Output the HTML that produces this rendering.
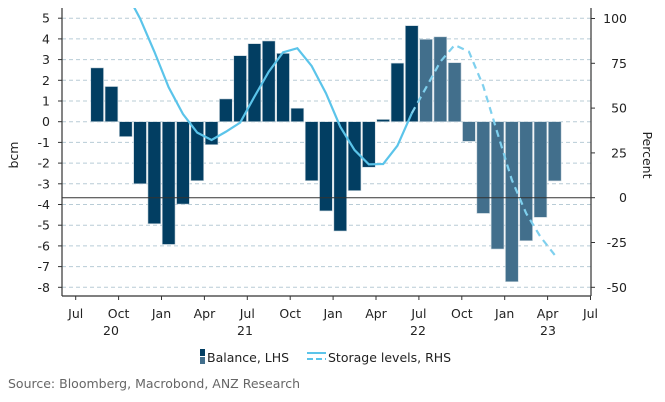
<!DOCTYPE html>
<html><head><meta charset="utf-8"><style>
html,body{margin:0;padding:0;background:#fff;}
svg{display:block;font-family:"DejaVu Sans","Liberation Sans",sans-serif;}
</style></head><body>
<svg id="chart" width="665" height="402" viewBox="0 0 665 402" xmlns="http://www.w3.org/2000/svg">
<defs><clipPath id="plotclip"><rect x="62" y="8" width="529" height="288"/></clipPath></defs>
<g id="grid"></g>
<g id="bars"></g>
<line x1="62" x2="591" y1="197.7" y2="197.7" stroke="#333" stroke-width="1"/>
<g id="lines" clip-path="url(#plotclip)"></g>
<g id="axes"></g>
<text x="18" y="155" font-size="12.5" fill="#222" text-anchor="middle" transform="rotate(-90 18 155)">bcm</text>
<text x="643" y="155" font-size="12.5" fill="#222" text-anchor="middle" transform="rotate(90 643 155)">Percent</text>
<g>
<rect x="200" y="349" width="5" height="7" fill="#023e62"/>
<rect x="200" y="357" width="5" height="7" fill="#426f8c"/>
<text x="207" y="362" font-size="12.5" fill="#222">Balance, LHS</text>
<line x1="307" x2="326" y1="353" y2="353" stroke="#5bc4ea" stroke-width="2"/>
<line x1="307" x2="326" y1="359" y2="359" stroke="#5bc4ea" stroke-width="2" stroke-dasharray="6,3"/>
<text x="328" y="362" font-size="12.5" fill="#222">Storage levels, RHS</text>
</g>
<text x="8" y="388" font-size="12.5" fill="#666">Source:  Bloomberg, Macrobond, ANZ Research</text>
</svg>
<script>
const months = ["Aug20","Sep20","Oct20","Nov20","Dec20","Jan21","Feb21","Mar21","Apr21","May21","Jun21","Jul21","Aug21","Sep21","Oct21","Nov21","Dec21","Jan22","Feb22","Mar22","Apr22","May22","Jun22","Jul22","Aug22","Sep22","Oct22","Nov22","Dec22","Jan23","Feb23","Mar23","Apr23"];
const balance = [2.6,1.7,-0.72,-3.0,-4.93,-5.93,-3.98,-2.85,-1.11,1.1,3.19,3.77,3.9,3.3,0.65,-2.85,-4.31,-5.28,-3.33,-2.2,0.11,2.83,4.64,3.98,4.1,2.85,-0.95,-4.43,-6.15,-7.73,-5.75,-4.62,-2.86];
const forecastStart = 23;
const storageMonths = ["Oct20","Nov20","Dec20","Jan21","Feb21","Mar21","Apr21","May21","Jun21","Jul21","Aug21","Sep21","Oct21","Nov21","Dec21","Jan22","Feb22","Mar22","Apr22","May22","Jun22","Jul22","Aug22","Sep22","Oct22","Nov22","Dec22","Jan23","Feb23","Mar23","Apr23"];
const storage = [115,100,81.5,61.6,46.7,36.3,32.2,36.8,41.9,56.4,70.3,81.1,83.4,73.5,58.3,39.6,26.6,18.6,18.8,29,47.1,61.4,75.9,85.2,81.5,62.3,35.9,9.9,-8.7,-21.8,-32];
const storageForecastStart = 20; // index of Jun22, dashed from here
const leftTicks = [5,4,3,2,1,0,-1,-2,-3,-4,-5,-6,-7,-8];
const rightTicks = [100,75,50,25,0,-25,-50];
const xLabels = ["Jul","Oct","Jan","Apr","Jul","Oct","Jan","Apr","Jul","Oct","Jan","Apr","Jul"];
const yearLabels = [["20",111],["21",245],["22",418],["23",548]];

const NS="http://www.w3.org/2000/svg";
const yL = v => 121.7 - v*20.7;
const yR = v => 197.7 - v*1.792;
const monthIdx = m => { const mo=["Jan","Feb","Mar","Apr","May","Jun","Jul","Aug","Sep","Oct","Nov","Dec"].indexOf(m.slice(0,3)); const yr=+m.slice(3); return (yr-20)*12 + mo - 6; };
const xM = m => 75.7 + (monthIdx(m)+0.5)*14.3;
const xT = i => 75.7 + i*3*14.3;
function el(tag, attrs, parent){const e=document.createElementNS(NS,tag);for(const k in attrs)e.setAttribute(k,attrs[k]);parent.appendChild(e);return e;}
const grid=document.getElementById('grid'), bars=document.getElementById('bars'), lines=document.getElementById('lines'), axes=document.getElementById('axes');

leftTicks.forEach(v=>{
  const g=el('line',{x1:62,x2:591,y1:yL(v),y2:yL(v),stroke:'#b8ccd6','stroke-width':1,'stroke-dasharray':'4,3'},grid);
  
  
  const t=el('text',{x:50,y:yL(v)+4.5,'font-size':12.5,fill:'#222','text-anchor':'end'},axes);
  t.textContent=v;
  
  
  el('line',{x1:58,x2:62,y1:yL(v),y2:yL(v),stroke:'#333'},axes);
});
rightTicks.forEach(v=>{
  const t=el('text',{x:627,y:yR(v)+4.5,'font-size':12.5,fill:'#222','text-anchor':'end'},axes);
  t.textContent=v;
  
  
  el('line',{x1:591,x2:595,y1:yR(v),y2:yR(v),stroke:'#333'},axes);
});
balance.forEach((v,i)=>{
  const x=xM(months[i]);
  const r=el('rect',{x:x-6.4,y:Math.min(yL(v),yL(0)),width:12.8,height:Math.abs(yL(v)-yL(0)),fill:i>=forecastStart?'#426f8c':'#023e62',stroke:'#c9d6de','stroke-width':0.6},bars);
  
  
});
const pts=storage.map((v,i)=>[xM(storageMonths[i]),yR(v)]);
const solid=el('polyline',{points:pts.slice(0,storageForecastStart+1).map(p=>p.join(',')).join(' '),fill:'none',stroke:'#5bc4ea','stroke-width':2.2},lines);


const dash=el('polyline',{points:pts.slice(storageForecastStart).map(p=>p.join(',')).join(' '),fill:'none',stroke:'#7fd0ee','stroke-width':2.2,'stroke-dasharray':'7,5'},lines);


// axes frame
el('line',{x1:62,x2:62,y1:8,y2:296,stroke:'#333','stroke-width':1.2},axes);
el('line',{x1:591,x2:591,y1:8,y2:296,stroke:'#333','stroke-width':1.2},axes);
el('line',{x1:62,x2:591,y1:296,y2:296,stroke:'#333','stroke-width':1.2},axes);
xLabels.forEach((s,i)=>{
  el('line',{x1:xT(i),x2:xT(i),y1:296,y2:300,stroke:'#333'},axes);
  const t=el('text',{x:xT(i),y:318,'font-size':12.5,fill:'#222','text-anchor':'middle'},axes);
  t.textContent=s;
  
  
});
yearLabels.forEach(([s,x])=>{
  const t=el('text',{x:x,y:335,'font-size':12.5,fill:'#222','text-anchor':'middle'},axes);
  t.textContent=s;
  
  
});
</script>
</body></html>
